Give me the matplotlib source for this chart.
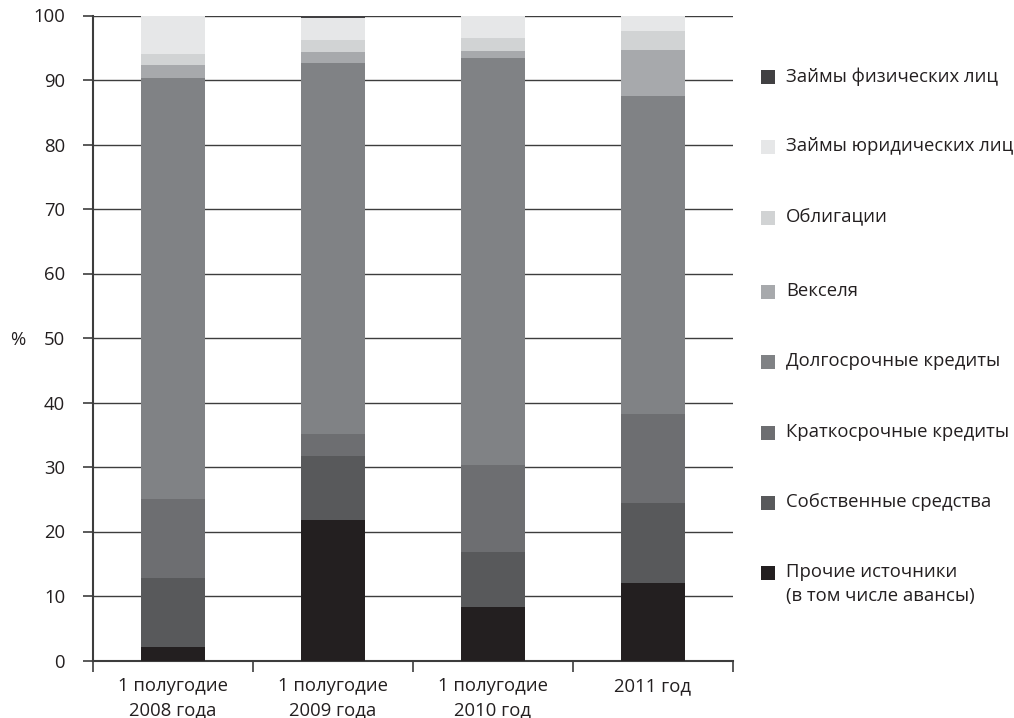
import matplotlib
matplotlib.use("Agg")
import matplotlib.pyplot as plt
from matplotlib.patches import Rectangle
import numpy as np

plt.rcParams['font.family'] = ['Open Sans', 'DejaVu Sans']

# Periods and financing structure, % of total
periods = ["1 полугодие\n2008 года", "1 полугодие\n2009 года", "1 полугодие\n2010 год", "2011 год"]

series_names = [
    "Прочие источники\n(в том числе авансы)",
    "Собственные средства",
    "Краткосрочные кредиты",
    "Долгосрочные кредиты",
    "Векселя",
    "Облигации",
    "Займы юридических лиц",
    "Займы физических лиц",
]

prochie = [2.1, 21.8, 8.3, 12.0]
sobstvennye = [10.7, 9.9, 8.5, 12.4]
kratkosrochnye = [12.2, 3.4, 13.5, 13.8]
dolgosrochnye = [65.3, 57.6, 63.1, 49.3]
vekselya = [2.0, 1.6, 1.1, 7.2]
obligatsii = [1.7, 1.9, 2.0, 2.9]
zaimy_yur = [6.0, 3.4, 3.5, 2.4]
zaimy_fiz = [0.0, 0.4, 0.0, 0.0]

series_values = [prochie, sobstvennye, kratkosrochnye, dolgosrochnye,
                 vekselya, obligatsii, zaimy_yur, zaimy_fiz]

colors = ["#231f20", "#58595b", "#6d6e71", "#808285",
          "#a7a9ac", "#d1d3d4", "#e6e7e8", "#414042"]

yticks = list(range(0, 101, 10))
FS = 13.3

fig = plt.figure(figsize=(10.14, 7.18), dpi=100)
ax = fig.add_axes([93 / 1014, 1 - 660.5 / 718, 640 / 1014, 645 / 718])

x = np.arange(len(periods))
bottom = np.zeros(len(periods))
for vals, col in zip(series_values, colors):
    v = np.array(vals)
    ax.bar(x, v, width=0.4, bottom=bottom, color=col, zorder=3, linewidth=0)
    bottom += v

ax.set_xlim(-0.5, len(periods) - 0.5)
ax.set_ylim(0, 100)
ax.set_yticks(yticks)
ax.set_yticklabels([str(t) for t in yticks], fontsize=FS, color="#231f20")
ax.yaxis.grid(True, color="#3d3d3d", linewidth=1.0, zorder=0)
ax.set_axisbelow(True)

ax.set_xticks(np.arange(-0.5, len(periods), 1.0))
ax.set_xticklabels([])
ax.set_xticks(x, minor=True)
ax.set_xticklabels(periods, minor=True, fontsize=FS, color="#231f20",
                   linespacing=1.4, va="top")
ax.tick_params(axis="x", which="minor", length=0, pad=12)
ax.tick_params(axis="x", which="major", direction="out", length=8,
               width=1.2, color="#3d3d3d")
ax.tick_params(axis="y", direction="out", length=7, width=1.2,
               color="#3d3d3d", pad=13)

for side in ("top", "right"):
    ax.spines[side].set_visible(False)
for side in ("left", "bottom"):
    ax.spines[side].set_color("#3d3d3d")
    ax.spines[side].set_linewidth(1.5)

fig.text(10 / 1014, 1 - 340 / 718, "%", fontsize=FS, color="#231f20",
         ha="left", va="center")

# Legend, top entry first
legend_rows_y = [77, 147, 218, 292, 362, 433, 503, 573]
order = list(range(len(series_names)))[::-1]
for row_y, idx in zip(legend_rows_y, order):
    fig.patches.append(Rectangle((761 / 1014, 1 - (row_y + 7) / 718),
                                 14 / 1014, 14 / 718,
                                 transform=fig.transFigure,
                                 color=colors[idx], linewidth=0))
    fig.text(786 / 1014, 1 - (row_y - 10) / 718, series_names[idx],
             fontsize=FS, color="#231f20", ha="left", va="top",
             linespacing=1.4)

fig.savefig("out.png", dpi=100)
